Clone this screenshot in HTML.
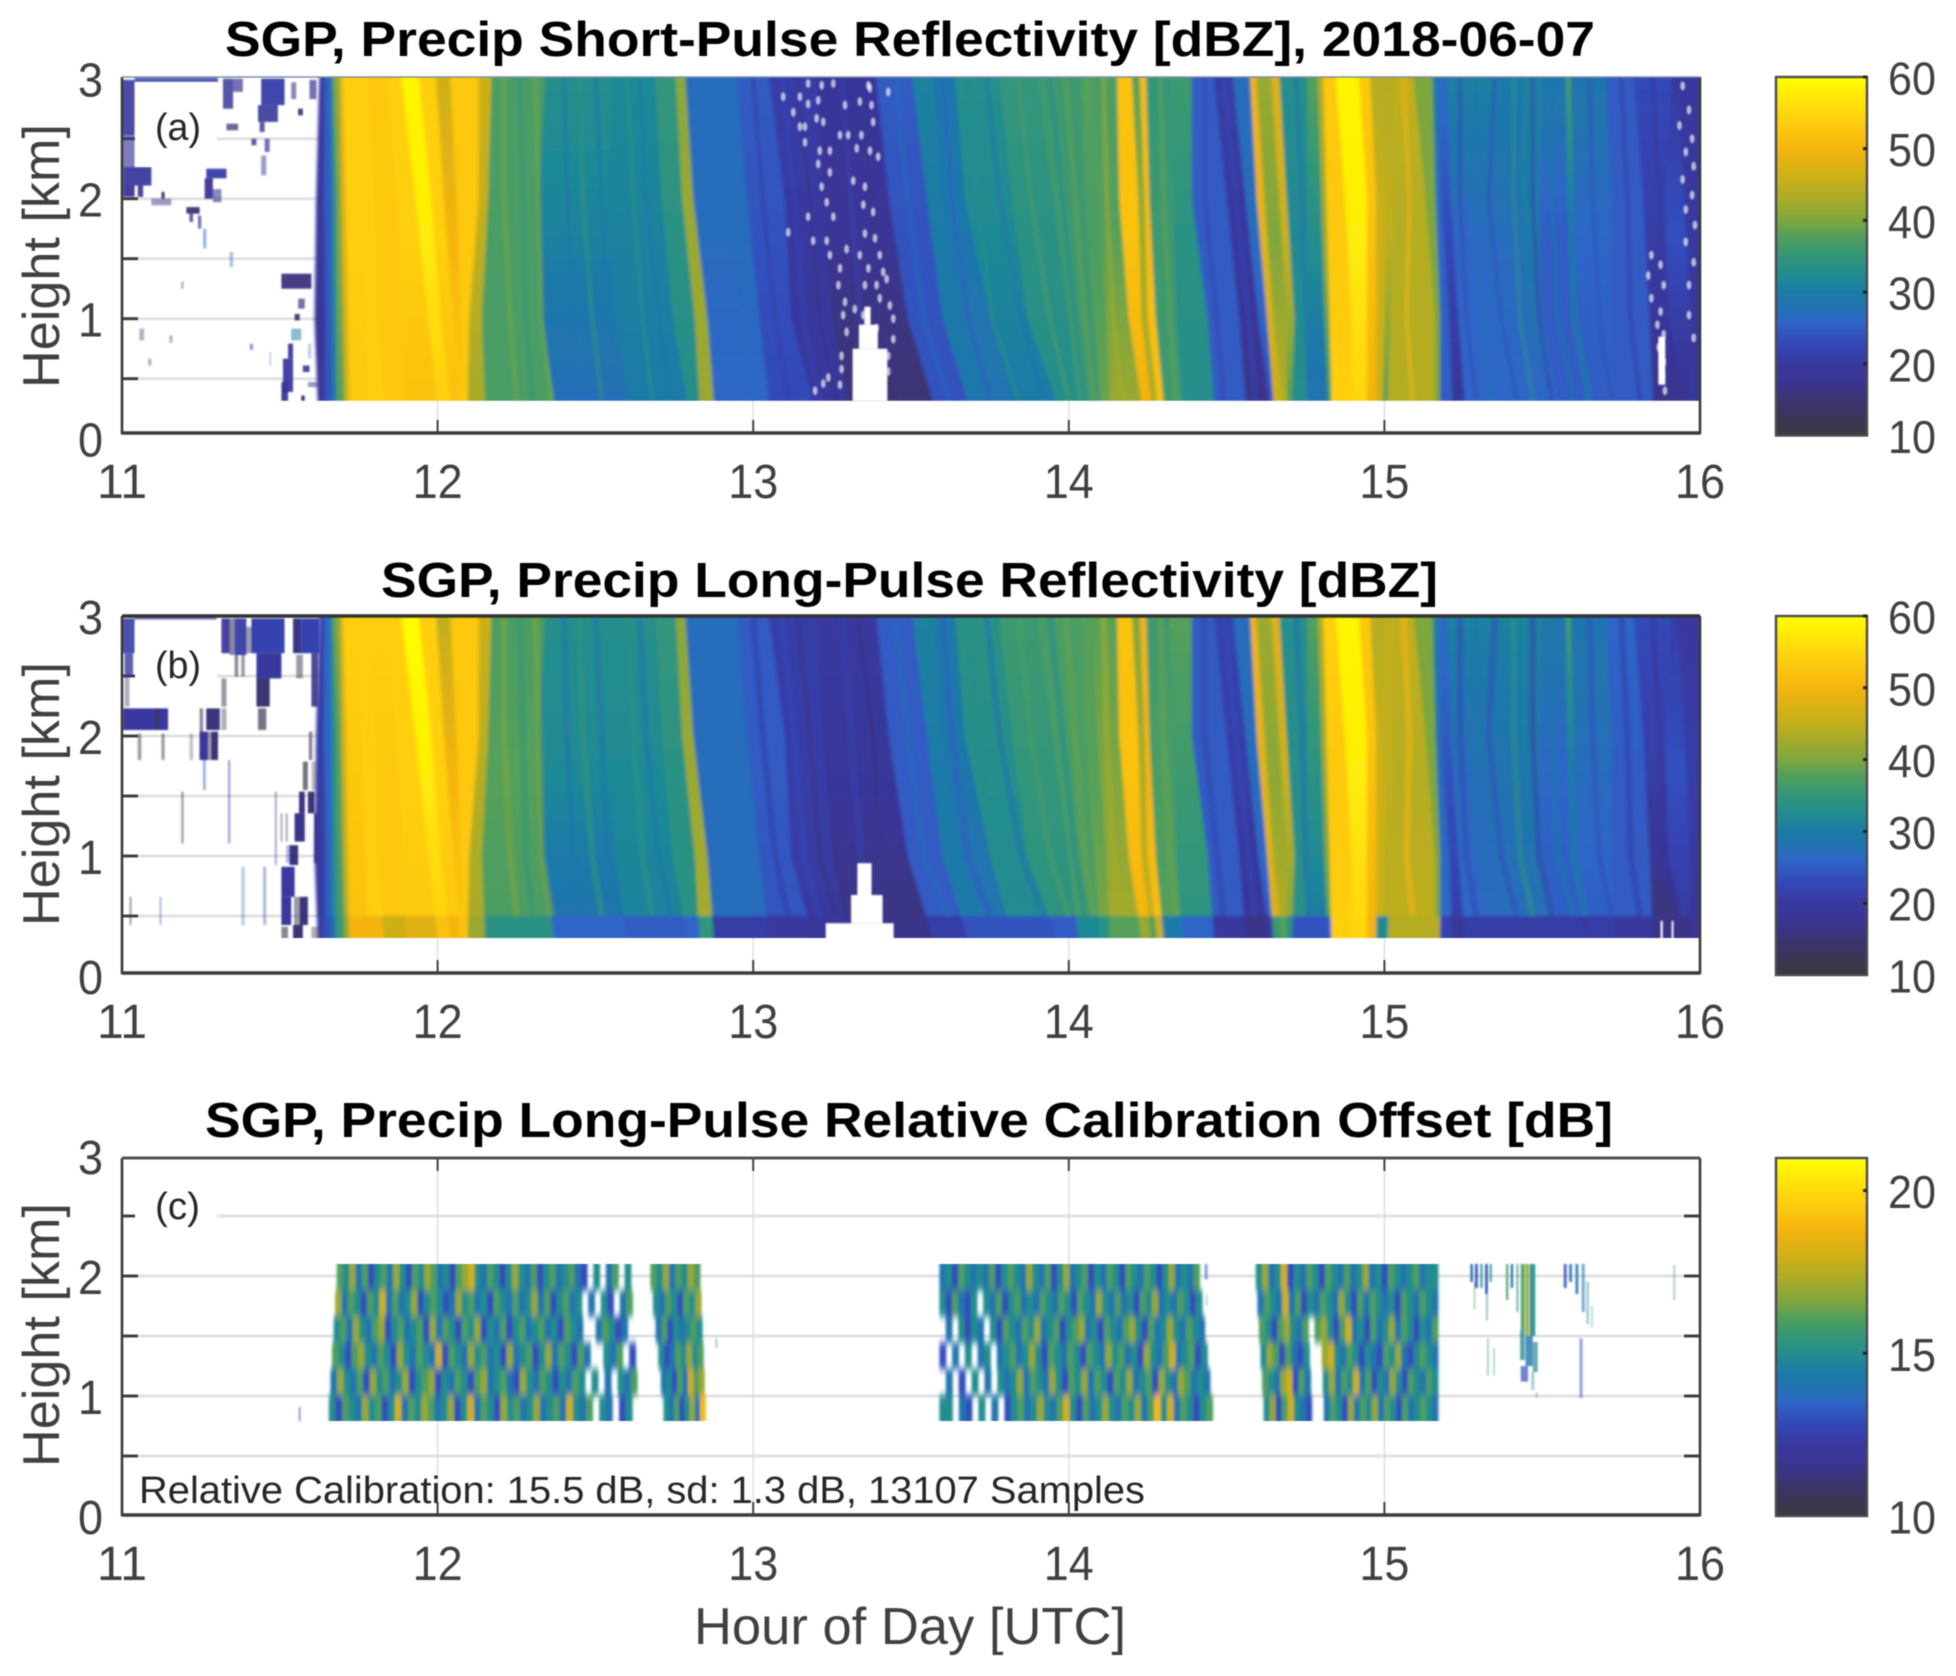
<!DOCTYPE html>
<html lang="en">
<head>
<meta charset="utf-8">
<title>SGP Precip Reflectivity 2018-06-07</title>
<style>
html,body{margin:0;padding:0;background:#fff;}
svg{display:block;filter:blur(0.55px);font-family:"Liberation Sans",sans-serif;}
.tick{font-size:48px;fill:#404040;}
.cb{font-size:46px;fill:#404040;}
.title{font-size:49px;font-weight:bold;fill:#000;}
.axl{font-size:52px;fill:#404040;}
.pl{font-size:38px;fill:#262626;}
</style>
</head>
<body>
<svg id="fig" xmlns="http://www.w3.org/2000/svg" width="1956" height="1676" viewBox="0 0 1956 1676">
<defs>
<filter id="soft" filterUnits="userSpaceOnUse" x="0" y="0" width="1956" height="1676"><feGaussianBlur stdDeviation="1.5"/></filter>
<filter id="mild" filterUnits="userSpaceOnUse" x="0" y="0" width="1956" height="1676"><feGaussianBlur stdDeviation="0.8"/></filter>
<filter id="cal" filterUnits="userSpaceOnUse" x="0" y="0" width="1956" height="1676"><feGaussianBlur stdDeviation="1.3 4"/></filter>
<clipPath id="clip-a"><rect x="122" y="77" width="1578" height="323.7"/></clipPath>
<clipPath id="clip-b"><rect x="122" y="616" width="1578" height="322"/></clipPath>
<clipPath id="clip-c"><rect x="122" y="1264" width="1578" height="157"/></clipPath>
</defs>
<rect width="1956" height="1676" fill="#fff"/>
<g id="layer-a"></g>
<g id="layer-b"></g>
<g id="layer-c"></g>
<text class="title" x="225" y="56" textLength="1370" lengthAdjust="spacingAndGlyphs">SGP, Precip Short-Pulse Reflectivity [dBZ], 2018-06-07</text>
<text class="title" x="381" y="597" textLength="1057" lengthAdjust="spacingAndGlyphs">SGP, Precip Long-Pulse Reflectivity [dBZ]</text>
<text class="title" x="205" y="1137" textLength="1408" lengthAdjust="spacingAndGlyphs">SGP, Precip Long-Pulse Relative Calibration Offset [dB]</text>
<text class="axl" transform="translate(59,388) rotate(-90)" textLength="264" lengthAdjust="spacingAndGlyphs">Height [km]</text>
<text class="axl" transform="translate(59,926) rotate(-90)" textLength="264" lengthAdjust="spacingAndGlyphs">Height [km]</text>
<text class="axl" transform="translate(59,1467) rotate(-90)" textLength="264" lengthAdjust="spacingAndGlyphs">Height [km]</text>
<text class="axl" x="694" y="1644" textLength="432" lengthAdjust="spacingAndGlyphs">Hour of Day [UTC]</text>
<text class="pl" x="155" y="140" textLength="46" lengthAdjust="spacingAndGlyphs">(a)</text>
<text class="pl" x="155" y="678" textLength="46" lengthAdjust="spacingAndGlyphs">(b)</text>
<text class="pl" x="155" y="1219" textLength="45" lengthAdjust="spacingAndGlyphs">(c)</text>
<text class="pl" x="139" y="1503" textLength="1006" lengthAdjust="spacingAndGlyphs">Relative Calibration: 15.5 dB, sd: 1.3 dB, 13107 Samples</text>
</svg>
<script>
// ---------- axis ticks ----------
const xTicks = [11, 12, 13, 14, 15, 16];
const yTicks = [0, 0.5, 1, 1.5, 2, 2.5, 3];
const yTickLabels = [0, 1, 2, 3];
const reflectivityTicks = [10, 20, 30, 40, 50, 60];
const calibrationTicks = [10, 15, 20];

// ---------- colormap ----------
const cmapLevels = [10, 12, 15, 18, 20, 23, 26, 28, 30, 32, 35, 38, 40, 43, 46, 50, 54, 57, 60];
const cmapColors = ['#3a3a40','#3a3650','#3b3472','#3a3596','#38389e','#3348b8','#2e66c8','#2273b0','#1b7aa8','#1f8a94','#32967a','#55a05a','#7da63e','#a8ab28','#ccb018','#f5b40f','#ffcf0f','#ffe40a','#ffff00'];

// ---------- band boundaries (hour of day) at 3, 2, 1, 0.32 km ----------
const bandAt3km = [11.625,11.64,11.66,11.67,11.69,11.70,11.74,11.78,11.84,11.885,11.94,11.995,12.04,12.13,12.17,12.34,12.55,12.69,12.755,12.785,12.95,13.05,13.2,13.39,13.505,13.57,13.64,13.78,13.90,14.04,14.07,14.153,14.20,14.225,14.245,14.32,14.39,14.46,14.52,14.575,14.593,14.642,14.667,14.756,14.79,14.806,14.846,14.919,14.955,15.0,15.03,15.093,15.153,15.17,15.20,15.36,15.44,15.50,15.575,15.59,15.70,15.79,15.91,15.93];
const bandAt2km = [11.615,11.64,11.665,11.68,11.695,11.71,11.76,11.80,11.87,11.93,11.98,12.02,12.06,12.13,12.16,12.32,12.55,12.71,12.775,12.81,12.98,13.10,13.22,13.43,13.55,13.60,13.67,13.82,13.95,14.05,14.09,14.16,14.22,14.24,14.255,14.33,14.39,14.50,14.56,14.595,14.62,14.667,14.69,14.757,14.80,14.816,14.875,14.945,14.974,15.0,15.03,15.13,15.162,15.18,15.21,15.30,15.43,15.49,15.58,15.60,15.72,15.82,15.89,15.95];
const bandAt1km = [11.61,11.645,11.665,11.68,11.70,11.715,11.77,11.81,11.89,11.97,12.01,12.05,12.075,12.10,12.14,12.33,12.56,12.745,12.815,12.855,13.02,13.12,13.25,13.49,13.60,13.66,13.75,13.87,14.00,14.08,14.12,14.19,14.23,14.25,14.275,14.34,14.44,14.54,14.60,14.628,14.648,14.69,14.715,14.757,14.81,14.826,14.895,14.945,14.974,15.0,15.02,15.16,15.177,15.205,15.235,15.34,15.45,15.50,15.59,15.61,15.72,15.84,15.90,15.97];
const bandAtBase = [11.62,11.64,11.665,11.68,11.705,11.72,11.78,11.83,11.90,12.0,12.04,12.07,12.09,12.095,12.15,12.37,12.60,12.79,12.83,12.875,13.05,13.19,13.30,13.57,13.68,13.74,13.82,13.96,14.03,14.10,14.13,14.23,14.26,14.28,14.30,14.36,14.46,14.56,14.635,14.648,14.674,14.69,14.707,14.757,14.82,14.832,14.90,14.945,14.974,14.995,15.01,15.16,15.176,15.215,15.255,15.38,15.50,15.55,15.64,15.66,15.73,15.85,15.955,15.965];

// ---------- panel (a) short-pulse dBZ per band ----------
const shortPulseUpper = [20,25,33,41,49,54,54,53,54,59,54,46,53,46,37,33,32,35,41,27,25,21,19,25,31,29,33,35,36,38,37,52,38,51,35,36,25,21,27,50,42,48,33,38,44,53,59,53,44,44,45,40,30,27,31,30,31,29,37,29,25,23,20,20];
const shortPulseMiddle = [20,25,33,40,48,54,54,53,54,58,54,50,53,45,37,31,31,34,42,27,24,20,18,24,30,29,32,34,36,37,38,52,42,51,36,34,25,20,27,48,40,46,32,33,42,53,58,52,46,45,44,40,26,23,26,27,30,25,29,26,25,21,24,20];
const shortPulseLower = [18,24,30,38,46,53,54,53,52,54,52,53,53,43,37,27,30,33,42,26,23,19,15,24,29,28,30,33,36,39,42,50,44,52,36,33,25,17,24,46,44,38,33,28,36,54,55,50,46,38,44,40,25,19,26,26,26,25,28,25,25,17,18,19];

// ---------- panel (b) long-pulse dBZ per band ----------
const longPulseUpper = [21,26,34,40,47,54,54,54,54,60,54,45,53,46,37,33,33,35,41,27,25,21,20,25,31,30,34,36,37,38,38,52,40,50,36,38,25,22,27,50,42,48,33,38,44,54,59,53,44,45,45,40,31,27,31,31,31,29,37,29,26,23,21,20];
const longPulseMiddle = [21,26,34,38,46,53,54,53,54,58,54,50,53,44,38,32,32,34,42,27,25,21,19,25,30,29,33,35,37,38,40,52,43,50,37,36,25,21,27,48,41,46,33,34,42,53,58,52,46,45,44,40,27,24,27,28,30,26,30,27,25,21,24,21];
const longPulseLower = [20,25,32,36,44,52,54,53,53,54,53,53,53,43,37,28,31,34,43,27,24,20,16,25,30,28,32,34,37,40,43,50,46,52,38,34,25,18,25,47,44,40,34,30,38,54,55,50,46,44,45,40,26,21,26,27,27,25,28,25,25,15,20,19];
const longPulseNearRange = [21,24,30,36,42,50,50,46,48,52,50,52,52,42,34,26,25,26,35,21,20,19,17,21,24,24,24,25,32,34,38,42,38,46,30,26,20,17,20,36,38,34,24,24,25,54,55,50,32,32,44,44,22,19,21,21,21,21,20,21,20,17,17,18];

// ---------- fine streaks: hour at 3, 2, 1, 0.32 km and dBZ ----------
const streakAt3km = [12.21,12.26,12.31,12.40,12.45,12.50,12.60,12.64,12.90,13.00,13.09,13.14,13.28,13.33,13.45,13.60,13.68,13.74,13.84,13.94,13.99,14.11,14.29,14.43,14.49,14.72,15.06,15.24,15.29,15.35,15.41,15.47,15.53,15.65,15.75,15.85];
const streakAt2km = [12.21,12.27,12.32,12.41,12.46,12.52,12.62,12.66,12.93,13.03,13.13,13.18,13.31,13.38,13.49,13.63,13.71,13.78,13.88,13.98,14.02,14.12,14.30,14.43,14.53,14.74,15.08,15.24,15.29,15.33,15.41,15.47,15.53,15.66,15.77,15.87];
const streakAt1km = [12.23,12.28,12.33,12.43,12.49,12.54,12.65,12.70,12.97,13.07,13.16,13.21,13.34,13.40,13.54,13.68,13.76,13.85,13.94,14.02,14.05,14.14,14.32,14.47,14.57,14.75,15.07,15.26,15.31,15.37,15.43,15.49,15.55,15.68,15.78,15.89];
const streakAtBase = [12.25,12.30,12.36,12.46,12.52,12.58,12.68,12.74,13.0,13.11,13.21,13.26,13.36,13.47,13.62,13.75,13.84,13.92,14.00,14.05,14.08,14.17,14.34,14.49,14.59,14.76,15.09,15.29,15.34,15.42,15.47,15.53,15.60,15.72,15.81,15.93];
const streakDbz = [40,35,40,29,35,29,34,29,27,21,23,17,22,17,27,25,33,28,37,32,39,43,39,22,23,28,50,23,29,24,34,22,30,24,21,19];

// ---------- isolated echoes: [hourStart, hourEnd, kmLow, kmHigh, dBZ, coverage] ----------
const shortPulseEchoes = [
[10.998,11.04,2.53,2.99,20,.9],[10.998,11.04,2.265,2.53,19,.65],[11.003,11.093,2.11,2.265,20,.95],[11.003,11.04,2.015,2.11,18,.95],[11.05,11.067,2.015,2.11,17,.9],
[11.04,11.304,2.97,3.01,22,.85],[11.32,11.352,2.75,3.0,19,.85],[11.352,11.383,2.89,3.0,18,.7],[11.331,11.368,2.57,2.625,15,.75],[11.441,11.515,2.78,3.0,21,.95],
[11.431,11.494,2.64,2.78,19,.9],[11.436,11.452,2.556,2.64,17,.8],[11.41,11.426,2.445,2.5,18,.8],[11.452,11.468,2.39,2.5,19,.7],[11.441,11.457,2.195,2.36,19,.5],
[11.536,11.552,2.83,2.97,17,.6],[11.558,11.573,2.695,2.75,14,.95],[11.594,11.616,2.83,2.99,18,.7],[11.267,11.331,2.17,2.25,21,.95],[11.262,11.288,2.0,2.17,18,.95],
[11.288,11.315,1.97,2.08,17,.6],[11.125,11.135,2.0,2.056,13,.95],[11.093,11.156,1.945,2.0,17,.5],[11.204,11.246,1.875,1.93,15,.95],[11.214,11.225,1.806,1.875,16,.8],
[11.241,11.251,1.75,1.86,16,.7],[11.257,11.267,1.585,1.75,26,.5],[11.341,11.352,1.43,1.556,26,.4],[11.505,11.6,1.25,1.375,16,.95],[11.558,11.579,1.084,1.167,17,.7],
[11.547,11.563,.986,1.04,13,.9],[11.536,11.568,.82,.917,30,.5],[11.526,11.542,.667,.792,20,.95],[11.51,11.542,.39,.667,20,.95],[11.573,11.594,.556,.61,19,.9],
[11.505,11.526,.306,.473,19,.95],[11.568,11.579,.306,.36,13,.95],[11.589,11.621,.43,.473,17,.5],[11.188,11.195,1.25,1.31,12,.4],[11.055,11.07,.82,.917,14,.4],
[11.15,11.16,.8,.86,14,.4],[11.083,11.093,.61,.667,14,.4],[11.405,11.415,.74,.79,24,.6],[11.468,11.472,.61,.72,24,.4],[11.589,11.6,.667,.792,27,.3]
];
const longPulseEchoes = [
[10.998,11.04,2.69,2.98,21,.9],[11.008,11.035,2.495,2.69,20,.8],[11.008,11.024,2.245,2.495,14,.4],[11.003,11.146,2.05,2.23,20,1],[11.104,11.119,2.05,2.23,12,.6],
[11.315,11.341,2.69,2.98,20,.95],[11.341,11.357,2.675,2.98,12,.6],[11.357,11.394,2.675,2.98,21,.95],[11.394,11.41,2.69,2.91,12,.5],[11.41,11.515,2.69,2.98,22,1],
[11.426,11.505,2.48,2.69,20,1],[11.426,11.468,2.245,2.48,15,1],[11.431,11.457,2.05,2.23,12,.7],[11.542,11.568,2.69,2.98,17,1],[11.568,11.626,2.69,2.98,22,1],
[11.357,11.368,2.495,2.675,12,.6],[11.378,11.389,2.495,2.675,12,.5],[11.552,11.573,2.48,2.675,12,.5],[11.6,11.621,2.245,2.69,17,.9],[11.315,11.331,2.245,2.48,12,.5],
[11.267,11.31,2.05,2.23,16,1],[11.315,11.331,2.05,2.23,12,.4],[11.246,11.257,1.8,2.23,12,.6],[11.246,11.272,1.8,2.036,19,1],[11.272,11.283,1.8,2.036,12,.5],
[11.283,11.304,1.8,2.036,15,1],[11.214,11.225,1.8,2.02,12,.3],[11.05,11.061,1.8,2.02,12,.5],[11.125,11.135,1.8,2.02,12,.5],[11.257,11.265,1.55,1.8,24,.5],
[11.336,11.343,1.106,1.8,22,.5],[11.188,11.195,1.106,1.536,12,.5],[11.484,11.491,.925,1.536,18,.4],[11.503,11.508,1.12,1.356,12,.5],[11.518,11.525,1.12,1.356,12,.4],
[11.592,11.603,1.8,2.036,12,.6],[11.573,11.589,1.55,1.786,12,.7],[11.6,11.616,1.55,1.786,12,.3],[11.561,11.579,1.356,1.536,16,1],[11.589,11.61,1.356,1.536,15,1],
[11.547,11.579,1.12,1.356,17,1],[11.61,11.621,.94,1.356,17,1],[11.531,11.558,.925,1.09,16,1],[11.52,11.531,.94,1.09,24,.4],[11.505,11.547,.66,.91,20,1],
[11.505,11.536,.425,.66,20,1],[11.563,11.589,.425,.66,16,1],[11.545,11.563,.30,.66,12,.5],[11.505,11.526,.30,.41,12,.6],[11.542,11.573,.30,.425,15,1],
[11.6,11.626,.30,.41,12,.4],[11.378,11.389,.425,.91,24,.3],[11.447,11.457,.425,.91,24,.4],[11.024,11.03,.425,.66,12,.5],[11.119,11.125,.425,.66,24,.4],
[11.04,11.3,2.97,3.0,20,.7]
];

// ---------- missing data: [hourStart, hourEnd, kmLow, kmHigh] ----------
const shortPulseGaps = [[13.315,13.425,0.2,0.75],[13.335,13.395,0.75,0.95],[13.352,13.372,0.95,1.1],[15.868,15.89,0.45,0.85]];
const longPulseGaps = [[13.33,13.375,0.675,0.94],[13.31,13.41,0.44,0.675],[13.23,13.445,0.2,0.44],[15.875,15.882,0.2,0.46],[15.91,15.916,0.2,0.46]];

// ---------- scattered missing samples, panel (a) ----------
const speckleHours = [13.174,13.217,13.254,13.365,13.37,13.428,13.095,13.148,13.206,13.174,13.291,13.338,13.375,13.127,13.201,13.222,13.38,13.148,13.164,13.275,13.301,13.343,13.164,13.211,13.243,13.328,13.37,13.396,13.206,13.243,13.317,13.354,13.217,13.233,13.349,13.38,13.174,13.254,13.111,13.354,13.19,13.233,13.296,13.386,13.243,13.338,13.401,13.275,13.365,13.412,13.27,13.354,13.391,13.423,13.291,13.322,13.401,13.433,13.349,13.285,13.444,13.296,13.391,13.444,13.28,13.428,13.28,13.238,13.222,13.196,13.428,13.275,15.846,15.875,15.836,15.885,15.846,15.875,15.865,15.885,15.869,15.885,15.881,15.889,15.945,15.965,15.935,15.975,15.955,15.98,15.945,15.975,15.955,15.984,15.955,15.98,15.965,15.98,15.965];
const speckleHeights = [2.96,2.945,2.96,2.945,2.92,2.89,2.85,2.85,2.82,2.79,2.78,2.81,2.78,2.72,2.67,2.64,2.64,2.60,2.60,2.53,2.53,2.53,2.47,2.40,2.40,2.42,2.40,2.35,2.29,2.22,2.15,2.10,2.10,1.97,1.95,1.89,1.85,1.85,1.72,1.71,1.65,1.65,1.58,1.67,1.53,1.53,1.53,1.42,1.42,1.39,1.28,1.28,1.28,1.33,1.14,1.08,1.17,1.11,1.03,1.03,1.0,.89,.92,.83,.69,.69,.58,.51,.46,.40,.56,.45,1.53,1.45,1.36,1.28,1.17,1.06,.95,.87,.76,.64,.53,.40,2.94,2.74,2.61,2.5,2.39,2.27,2.16,2.03,1.91,1.78,1.64,1.47,1.28,.84,1.03];

// ---------- panel (c) relative calibration blocks ----------
const calBlockStartTop = [11.683,12.67,13.59,14.59];
const calBlockEndTop = [12.61,12.83,14.41,15.17];
const calBlockStartBase = [11.653,12.72,13.59,14.62];
const calBlockEndBase = [12.64,12.85,14.46,15.17];
const calBlock1 = [
[16,15,17,14,16,13,15,16,14,17,15,13,16,15,17,16,14,15,13,16,17,18,15,14,16,15,13,15,17,15,14,16,13,15,16,14,15,16,14,13,0,15,0,14,16,0,15],
[17,14,16,15,13,16,15,18,14,16,14,15,17,13,15,16,15,13,14,17,15,16,14,15,13,16,15,14,16,14,15,17,14,16,13,15,16,14,15,0,14,0,15,13,0,14,16],
[15,16,14,17,15,14,16,17,13,15,16,14,15,16,13,17,14,16,15,13,16,15,17,13,15,14,16,13,15,16,14,15,16,14,15,13,16,15,14,0,0,14,16,15,13,14,0],
[16,15,13,16,17,15,14,16,15,13,17,15,14,16,15,14,18,13,16,15,14,17,15,16,14,15,13,17,14,15,16,13,15,17,14,16,15,13,16,14,0,0,15,14,16,0,13],
[14,17,15,14,16,13,17,15,16,14,15,17,13,15,16,17,13,15,14,16,15,13,16,17,14,15,16,14,13,17,15,14,16,15,13,15,14,16,15,0,15,0,14,0,15,14,16],
[15,13,16,15,14,17,15,16,13,15,18,14,16,15,17,16,14,15,17,13,15,18,14,16,15,13,17,15,16,14,15,17,14,15,16,14,18,15,14,16,0,15,14,0,13,15,0]
];
const calBlock2 = [
[16,15,17,14,16,15,17,16],[15,14,16,15,13,16,15,17],[14,16,13,15,14,15,16,15],
[15,13,14,16,15,17,15,16],[14,15,13,16,14,18,16,17],[15,14,16,13,15,17,14,19]
];
const calBlock3 = [
[14,15,13,16,15,14,15,14,16,13,15,16,15,14,17,15,14,16,13,15,17,14,15,16,13,15,14,16,15,13,16,15,14,16,15,13,15,17,14,15,14,16],
[15,13,16,14,13,15,0,15,14,16,13,15,16,14,15,14,16,15,14,16,15,13,16,15,14,17,15,14,16,14,15,13,16,15,17,14,15,14,16,15,13,15],
[0,14,0,15,13,15,14,0,15,13,16,15,14,16,15,17,14,15,16,13,15,16,17,14,15,13,16,15,14,16,17,15,13,16,14,15,17,15,14,16,15,14],
[13,0,14,0,15,0,14,15,0,14,15,16,14,15,17,15,13,16,15,14,16,15,13,16,15,14,17,15,16,14,15,13,17,15,14,16,18,14,15,16,13,15],
[0,14,0,13,0,15,0,14,0,15,14,15,17,14,16,15,14,17,15,13,16,15,17,14,16,15,13,16,15,17,14,15,16,13,17,15,14,17,16,14,15,14],
[15,15,0,14,13,0,15,0,14,0,13,15,16,14,15,17,15,14,16,18,15,13,16,14,15,17,15,14,16,15,17,14,16,19,15,18,14,16,15,13,15,16]
];
const calBlock4 = [
[15,17,14,15,18,13,15,14,16,15,13,16,15,14,16,14,15,17,14,15,13,16,15,14,15,16,14,15,15],
[14,16,15,14,18,14,16,13,15,14,16,15,14,17,15,13,16,14,16,15,14,15,13,16,15,14,16,15,14],
[16,15,13,16,17,15,14,16,0,16,17,15,13,16,18,14,15,13,16,14,15,17,14,16,15,13,15,14,16],
[15,17,16,13,16,14,13,15,0,0,17,18,15,14,16,15,13,15,14,13,16,15,17,14,13,15,16,15,14],
[16,15,14,17,18,13,16,14,0,0,15,17,14,16,15,18,14,16,13,15,14,17,15,13,16,15,14,16,15],
[15,17,13,16,18,15,14,13,0,0,14,16,15,13,17,14,16,15,17,14,16,15,13,16,14,15,16,15,14]
];
const calStreaks = [
[15.272,15.281,1.95,2.10,14,.9],[15.287,15.296,1.9,2.10,13,.9],[15.303,15.312,1.9,2.10,15,.7],[15.319,15.328,1.85,2.10,13,.9],[15.333,15.341,1.95,2.10,15,.7],
[15.283,15.288,1.72,1.95,16,.5],[15.322,15.328,1.63,1.85,15,.5],[15.325,15.331,1.17,1.48,15,.4],[15.345,15.35,1.17,1.4,15,.4],
[15.385,15.393,1.8,2.10,16,.8],[15.40,15.408,1.9,2.10,14,.9],[15.418,15.425,1.7,2.10,15,.6],[15.432,15.445,1.55,2.10,16,.9],[15.447,15.458,1.5,2.10,17,.9],[15.46,15.478,1.5,2.10,15,.9],
[15.43,15.445,1.3,1.55,15,.8],[15.447,15.47,1.25,1.5,14,.8],[15.47,15.486,1.2,1.45,15,.7],[15.432,15.455,1.12,1.25,13,.7],[15.465,15.475,1.05,1.2,15,.4],[15.48,15.484,.985,1.03,13,.5],
[15.568,15.578,1.9,2.10,13,.8],[15.585,15.595,1.95,2.10,14,.8],[15.605,15.615,1.85,2.10,14,.8],[15.625,15.635,1.7,2.10,14,.6],[15.64,15.648,1.6,1.95,15,.45],[15.655,15.66,1.57,1.75,14,.35],
[15.618,15.628,.985,1.48,13,.5],[15.915,15.922,1.8,2.09,16,.4],[14.43,14.44,1.97,2.10,13,.5],[14.435,14.44,1.75,1.85,14,.3],[11.56,11.566,.79,.91,12,.5],[12.88,12.886,1.4,1.48,14,.4]
];

// ---------- scales ----------
const XL = 122, XR = 1700, PX_PER_HOUR = (XR - XL) / 5;
const panels = {
  a: {y3: 78.7, top: 77, bottom: 433},
  b: {y3: 616, top: 616, bottom: 973},
  c: {y3: 1156, top: 1158, bottom: 1515}
};
const cbars = {
  a: {top: 77, bottom: 435.5, max: 60},
  b: {top: 616, bottom: 975, max: 60},
  c: {top: 1158, bottom: 1516, max: 21}
};
function xScale(hour) { return XL + (hour - 11) * PX_PER_HOUR; }
function yScale(p, km) { return panels[p].y3 + (3 - km) * 120; }
function hex(c) { return [1, 3, 5].map(function (i) { return parseInt(c.substr(i, 2), 16); }); }
function colorOf(v) {
  if (v <= cmapLevels[0]) return cmapColors[0];
  for (let i = 1; i < cmapLevels.length; i++) {
    if (v <= cmapLevels[i]) {
      const f = (v - cmapLevels[i - 1]) / (cmapLevels[i] - cmapLevels[i - 1]);
      const p = hex(cmapColors[i - 1]), q = hex(cmapColors[i]);
      return 'rgb(' + p.map(function (a, k) { return Math.round(a + (q[k] - a) * f); }).join(',') + ')';
    }
  }
  return cmapColors[cmapColors.length - 1];
}
function calColor(v) { return colorOf(10 + (v - 10) * 50 / 11); }
const NS = 'http://www.w3.org/2000/svg';
function make(tag, attrs, parent) {
  const el = document.createElementNS(NS, tag);
  for (const k in attrs) el.setAttribute(k, attrs[k]);
  parent.appendChild(el);
  return el;
}
function lerp(levels, vals, h) {
  if (h >= levels[0]) return vals[0];
  for (let i = 1; i < levels.length; i++) {
    if (h >= levels[i]) {
      const f = (levels[i - 1] - h) / (levels[i - 1] - levels[i]);
      return vals[i - 1] + (vals[i] - vals[i - 1]) * f;
    }
  }
  return vals[vals.length - 1];
}
const edgeLevels = [3, 2, 1, 0.32];
const valueLevels = [3, 1.7, 0.32];
function bandEdge(i, km) {
  if (i >= bandAt3km.length) return 16.05;
  return lerp(edgeLevels, [bandAt3km[i], bandAt2km[i], bandAt1km[i], bandAtBase[i]], km);
}
function tickText(label) { return String(label).length * 25; }

function drawGridAndTicks(p, layer) {
  const P = panels[p];
  yTicks.forEach(function (km) {
    if (km === 0 || km === 3) return;
    const y = yScale(p, km);
    const g = make('line', {x1: 138, x2: 1684, y1: y, y2: y, stroke: '#e2e2e2', 'stroke-width': 3}, layer);
    
    
    const tl = make('line', {x1: XL, x2: XL + 16, y1: y, y2: y, stroke: '#404040', 'stroke-width': 3}, layer);
    
    
    const tr = make('line', {x1: XR - 16, x2: XR, y1: y, y2: y, stroke: '#404040', 'stroke-width': 3}, layer);
    
    
  });
  xTicks.forEach(function (hour) {
    if (hour === 11 || hour === 16) return;
    const x = xScale(hour);
    const g = make('line', {x1: x, x2: x, y1: P.top, y2: P.bottom, stroke: '#d8d8d8', 'stroke-width': 1.2}, layer);
    
    
    const tb = make('line', {x1: x, x2: x, y1: P.bottom - 13, y2: P.bottom, stroke: '#404040', 'stroke-width': 2}, layer);
    
    
    const tt = make('line', {x1: x, x2: x, y1: P.top, y2: P.top + 13, stroke: '#404040', 'stroke-width': 2}, layer);
    
    
  });
}

function drawFrameAndLabels(p, layer, topWidth, topColor) {
  const P = panels[p];
  const fr = make('path', {d: 'M' + XL + ' ' + P.top + 'V' + P.bottom + 'H' + XR + 'V' + P.top, fill: 'none', stroke: '#3c3c3c', 'stroke-width': 2.6}, layer);
  
  
  const base = make('line', {x1: XL, x2: XR, y1: P.bottom, y2: P.bottom, stroke: '#3c3c3c', 'stroke-width': 3.6}, layer);
  
  
  const topL = make('line', {x1: XL, x2: XR, y1: P.top, y2: P.top, stroke: topColor, 'stroke-width': topWidth}, layer);
  
  
  xTicks.forEach(function (hour) {
    const t = make('text', {x: xScale(hour), y: P.bottom + 65, 'text-anchor': 'middle', 'class': 'tick', textLength: tickText(hour), lengthAdjust: 'spacingAndGlyphs'}, layer);
    
    
    t.textContent = hour;
  });
  yTickLabels.forEach(function (km) {
    const t = make('text', {x: 103, y: yScale(p, km) + 18, 'text-anchor': 'end', 'class': 'tick', textLength: tickText(km), lengthAdjust: 'spacingAndGlyphs'}, layer);
    
    
    t.textContent = km;
  });
}

function drawColorbar(p, layer, ticks, colorFn) {
  const C = cbars[p];
  const scale = function (v) { return C.bottom - (v - 10) * (C.bottom - C.top) / (C.max - 10); };
  const steps = 128;
  const g = make('g', {}, layer);
  
  
  for (let i = 0; i < steps; i++) {
    const v0 = 10 + (C.max - 10) * i / steps;
    const v1 = 10 + (C.max - 10) * (i + 1) / steps;
    const r = make('rect', {x: 1776, width: 91, y: scale(v1), height: scale(v0) - scale(v1) + 0.6, fill: colorFn((v0 + v1) / 2)}, g);
    
    
  }
  const b = make('rect', {x: 1776, y: C.top, width: 91, height: C.bottom - C.top, fill: 'none', stroke: '#4a4a52', 'stroke-width': 2.4}, g);
  
  
  ticks.forEach(function (v) {
    const y = scale(v);
    if (v > 10) {
      const m = make('line', {x1: 1863, x2: 1867, y1: y, y2: y, stroke: '#222', 'stroke-width': 3}, g);
      
      
    }
    const t = make('text', {x: 1888, y: y + 17.5, 'class': 'cb', textLength: 48, lengthAdjust: 'spacingAndGlyphs'}, g);
    
    
    t.textContent = v;
  });
}

function drawBands(p, parent, upper, middle, lower, near, streakWidth) {
  const g = make('g', {filter: 'url(#soft)'}, parent);
  
  
  const step = 0.1;
  for (let i = 0; i < bandAt3km.length; i++) {
    for (let km = 3.2; km > 0.1; km -= step) {
      const hi = km, lo = km - step, mid = km - step / 2;
      let v = lerp(valueLevels, [upper[i], middle[i], lower[i]], mid);
      if (near && mid < 0.5) v = near[i];
      const pts = [
        [xScale(bandEdge(i, hi)), yScale(p, hi)],
        [xScale(bandEdge(i + 1, hi)) + 1, yScale(p, hi)],
        [xScale(bandEdge(i + 1, lo)) + 1, yScale(p, lo) + 0.6],
        [xScale(bandEdge(i, lo)), yScale(p, lo) + 0.6]
      ].map(function (q) { return q[0].toFixed(1) + ',' + q[1].toFixed(1); }).join(' ');
      const c = make('polygon', {points: pts, fill: colorOf(v)}, g);
      
      
    }
  }
  const kmBottom = near ? 0.5 : 0.1;
  streakDbz.forEach(function (v, i) {
    const pts = [
      [xScale(streakAt3km[i]), yScale(p, 3.2)],
      [xScale(streakAt3km[i]), yScale(p, 3)],
      [xScale(streakAt2km[i]), yScale(p, 2)],
      [xScale(streakAt1km[i]), yScale(p, 1)],
      [xScale(streakAtBase[i]), yScale(p, near ? 0.5 : 0.32)],
      [xScale(streakAtBase[i]), yScale(p, kmBottom)]
    ].map(function (q) { return q[0].toFixed(1) + ',' + q[1].toFixed(1); }).join(' ');
    const s = make('polyline', {points: pts, fill: 'none', stroke: colorOf(v), 'stroke-width': streakWidth, opacity: 0.6}, g);
    
    
  });
}

function drawEchoes(p, parent, echoes) {
  const g = make('g', {filter: 'url(#mild)'}, parent);
  
  
  echoes.forEach(function (e) {
    const r = make('rect', {x: xScale(e[0]), width: xScale(e[1]) - xScale(e[0]), y: yScale(p, e[3]), height: yScale(p, e[2]) - yScale(p, e[3]), fill: colorOf(e[4]), opacity: e[5]}, g);
    
    
  });
}

function drawGaps(p, parent, gaps) {
  const g = make('g', {filter: 'url(#mild)'}, parent);
  
  
  gaps.forEach(function (e) {
    const r = make('rect', {x: xScale(e[0]), width: xScale(e[1]) - xScale(e[0]), y: yScale(p, e[3]), height: yScale(p, e[2]) - yScale(p, e[3]), fill: '#fff'}, g);
    
    
  });
}

function drawLabelBox(p, layer, y, h) {
  const r = make('rect', {x: 135, y: y, width: 82, height: h, fill: '#fff'}, layer);
  
  
}

// ---------- panel (a) ----------
(function () {
  const layer = document.getElementById('layer-a');
  drawGridAndTicks('a', layer);
  const clip = make('g', {'clip-path': 'url(#clip-a)'}, layer);
  
  
  drawBands('a', clip, shortPulseUpper, shortPulseMiddle, shortPulseLower, null, 4);
  drawEchoes('a', clip, shortPulseEchoes);
  drawGaps('a', clip, shortPulseGaps);
  const sp = make('g', {filter: 'url(#mild)'}, clip);
  
  
  speckleHours.forEach(function (hour, i) {
    const e = make('ellipse', {cx: xScale(hour), cy: yScale('a', speckleHeights[i]), rx: 2.4, ry: 4.5, fill: '#fff', opacity: 0.65}, sp);
    
    
  });
  drawLabelBox('a', layer, 82, 85);
  drawFrameAndLabels('a', layer, 1.5, '#7f8fa8');
  drawColorbar('a', layer, reflectivityTicks, colorOf);
})();

// ---------- panel (b) ----------
(function () {
  const layer = document.getElementById('layer-b');
  drawGridAndTicks('b', layer);
  const clip = make('g', {'clip-path': 'url(#clip-b)'}, layer);
  
  
  drawBands('b', clip, longPulseUpper, longPulseMiddle, longPulseLower, longPulseNearRange, 6);
  drawEchoes('b', clip, longPulseEchoes);
  drawGaps('b', clip, longPulseGaps);
  drawLabelBox('b', layer, 622, 85);
  drawFrameAndLabels('b', layer, 3.4, '#333333');
  drawColorbar('b', layer, reflectivityTicks, colorOf);
})();

// ---------- panel (c) ----------
(function () {
  const layer = document.getElementById('layer-c');
  drawGridAndTicks('c', layer);
  drawLabelBox('c', layer, 1165, 75);
  const clip = make('g', {'clip-path': 'url(#clip-c)'}, layer);
  
  
  const g = make('g', {filter: 'url(#cal)'}, clip);
  
  
  const blocks = [calBlock1, calBlock2, calBlock3, calBlock4];
  const kmTop = 2.1, kmBase = 0.79;
  blocks.forEach(function (rows, b) {
    const dk = (kmTop - kmBase) / rows.length;
    rows.forEach(function (row, r) {
      const frac = (r + 0.5) / rows.length;
      const t0 = calBlockStartTop[b] + (calBlockStartBase[b] - calBlockStartTop[b]) * frac;
      const t1 = calBlockEndTop[b] + (calBlockEndBase[b] - calBlockEndTop[b]) * frac;
      const dt = (t1 - t0) / row.length;
      const padTop = r === 0 ? 14 : 0;
      const padBottom = r === rows.length - 1 ? 14 : 0;
      row.forEach(function (v, c) {
        if (!v) return;
        const x = xScale(t0 + c * dt);
        const cell = make('rect', {x: x, width: dt * PX_PER_HOUR + 0.4, y: yScale('c', kmTop - r * dk) - padTop, height: dk * 120 + 0.4 + padTop + padBottom, fill: calColor(v)}, g);
        
        
      });
    });
  });
  const sg = make('g', {filter: 'url(#mild)'}, layer);
  
  
  calStreaks.forEach(function (e) {
    const s = make('rect', {x: xScale(e[0]), width: xScale(e[1]) - xScale(e[0]), y: yScale('c', e[3]), height: yScale('c', e[2]) - yScale('c', e[3]), fill: calColor(e[4]), opacity: e[5]}, sg);
    
    
  });
  drawFrameAndLabels('c', layer, 3, '#505050');
  drawColorbar('c', layer, calibrationTicks, calColor);
})();
</script>
</body>
</html>
